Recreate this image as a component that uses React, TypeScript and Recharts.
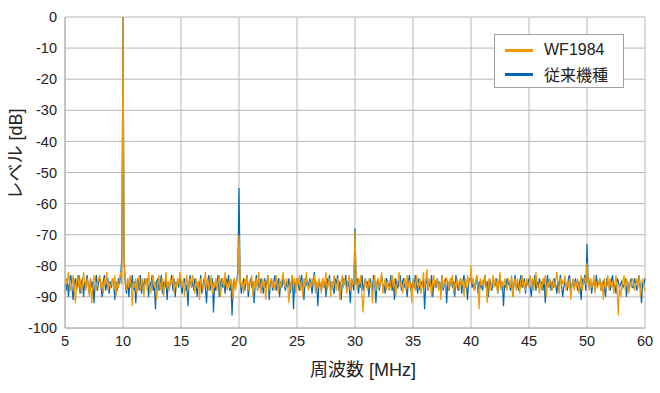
import { LineChart, Line, XAxis, YAxis, CartesianGrid, Legend, Label } from "recharts";

// spectrum sampled every 0.1 MHz, 5.0 .. 55.0 MHz of plotted span
const START_MHZ = 5;
const STEP_MHZ = 0.1;

// the source axis has eleven evenly spaced gridlines, the last one is labelled "60"
const xTicks = [5, 10, 15, 20, 25, 30, 35, 40, 45, 50, 55];
const xTickLabels = ["5", "10", "15", "20", "25", "30", "35", "40", "45", "50", "60"];
const yTicks = [0, -10, -20, -30, -40, -50, -60, -70, -80, -90, -100];

// WF1984 level [dB], one row per MHz
const wf1984 = [
  -89, -84, -86, -82, -85, -88, -86, -83, -87, -92,
  -85, -83, -87, -84, -89, -86, -82, -85, -88, -84,
  -86, -90, -84, -92, -87, -83, -85, -88, -86, -84,
  -83, -87, -85, -89, -84, -86, -82, -88, -85, -87,
  -86, -84, -88, -83, -90, -85, -87, -84, -82, -86,
  0, -80, -85, -88, -84, -87, -83, -86, -93, -85,
  -87, -84, -89, -85, -83, -88, -86, -84, -90, -85,
  -84, -88, -82, -86, -89, -85, -83, -87, -85, -91,
  -86, -83, -88, -85, -84, -90, -86, -82, -87, -85,
  -88, -84, -86, -83, -89, -85, -87, -84, -86, -82,
  -85, -87, -84, -90, -86, -83, -88, -85, -84, -87,
  -83, -86, -89, -84, -87, -85, -91, -84, -86, -88,
  -85, -82, -87, -84, -88, -86, -83, -89, -85, -87,
  -84, -88, -85, -83, -90, -86, -84, -87, -82, -86,
  -88, -85, -87, -84, -86, -91, -84, -88, -85, -83,
  -70, -84, -87, -85, -89, -84, -86, -83, -88, -85,
  -86, -83, -90, -85, -87, -84, -88, -82, -86, -89,
  -84, -87, -85, -91, -86, -83, -88, -85, -84, -87,
  -85, -88, -83, -86, -89, -84, -87, -85, -82, -86,
  -87, -84, -86, -92, -85, -88, -83, -86, -84, -89,
  -84, -86, -83, -88, -85, -90, -84, -87, -82, -86,
  -88, -85, -87, -84, -86, -83, -89, -85, -87, -84,
  -86, -89, -84, -87, -85, -82, -88, -86, -84, -90,
  -85, -87, -83, -86, -88, -84, -86, -91, -85, -83,
  -87, -84, -86, -89, -85, -83, -88, -84, -86, -85,
  -69, -85, -88, -84, -86, -83, -90, -95, -87, -84,
  -86, -88, -84, -87, -85, -92, -86, -83, -88, -85,
  -84, -87, -85, -82, -89, -86, -84, -88, -85, -87,
  -88, -85, -83, -87, -84, -90, -86, -85, -82, -87,
  -85, -89, -86, -84, -88, -83, -87, -85, -86, -92,
  -84, -86, -88, -83, -85, -87, -84, -89, -86, -82,
  -87, -85, -81, -88, -84, -86, -90, -85, -83, -87,
  -86, -84, -88, -85, -91, -83, -87, -85, -86, -84,
  -85, -88, -84, -86, -83, -89, -85, -87, -84, -86,
  -88, -84, -86, -85, -90, -84, -87, -83, -86, -85,
  -80, -86, -84, -88, -85, -83, -87, -94, -84, -86,
  -85, -87, -83, -86, -92, -85, -84, -88, -86, -83,
  -87, -84, -86, -89, -85, -82, -88, -85, -87, -84,
  -86, -88, -84, -85, -87, -83, -90, -86, -84, -88,
  -84, -86, -89, -85, -83, -87, -85, -88, -84, -86,
  -87, -83, -86, -84, -88, -85, -82, -87, -86, -89,
  -85, -88, -84, -86, -83, -90, -85, -87, -84, -86,
  -88, -84, -87, -85, -82, -86, -89, -84, -86, -85,
  -86, -83, -88, -85, -87, -84, -91, -86, -84, -88,
  -85, -87, -84, -89, -86, -83, -88, -85, -84, -86,
  -79, -85, -88, -84, -87, -86, -83, -89, -85, -87,
  -86, -84, -88, -85, -91, -84, -87, -86, -83, -88,
  -84, -87, -85, -89, -86, -83, -88, -96, -86, -90,
  -87, -85, -83, -88, -84, -86, -89, -85, -87, -84,
  -85, -88, -86, -84, -87, -83, -90, -86, -84, -87,
  -88,
];

// 従来機種 level [dB], one row per MHz
const legacy = [
  -86, -88, -84, -90, -85, -83, -87, -91, -86, -84,
  -88, -85, -83, -89, -86, -84, -90, -85, -87, -83,
  -86, -89, -84, -87, -85, -92, -86, -83, -88, -85,
  -84, -87, -90, -85, -83, -88, -86, -84, -89, -85,
  -87, -84, -86, -91, -85, -88, -84, -86, -83, -77,
  0, -78, -86, -89, -84, -90, -85, -87, -83, -88,
  -85, -92, -86, -84, -88, -83, -89, -85, -87, -84,
  -86, -84, -90, -85, -87, -83, -88, -86, -94, -85,
  -84, -88, -86, -83, -89, -85, -87, -84, -91, -86,
  -87, -85, -83, -88, -84, -90, -86, -85, -87, -83,
  -86, -89, -85, -84, -88, -86, -93, -85, -83, -87,
  -85, -88, -84, -86, -90, -85, -87, -83, -89, -86,
  -84, -87, -92, -85, -83, -88, -86, -84, -95, -86,
  -88, -85, -83, -90, -86, -84, -87, -85, -89, -84,
  -86, -83, -88, -85, -96, -86, -84, -87, -85, -82,
  -55, -85, -89, -86, -84, -88, -85, -83, -90, -86,
  -84, -87, -85, -92, -86, -83, -88, -85, -87, -84,
  -86, -89, -84, -87, -85, -83, -91, -86, -84, -88,
  -85, -83, -88, -86, -84, -90, -85, -87, -83, -86,
  -88, -85, -87, -84, -89, -86, -83, -94, -85, -87,
  -84, -86, -88, -85, -83, -87, -91, -84, -86, -85,
  -87, -84, -86, -89, -85, -82, -88, -86, -93, -85,
  -86, -88, -84, -87, -85, -90, -84, -86, -83, -88,
  -85, -87, -89, -84, -86, -83, -88, -85, -91, -86,
  -84, -86, -83, -88, -85, -87, -92, -84, -86, -88,
  -68, -86, -84, -89, -85, -87, -83, -88, -86, -84,
  -87, -85, -90, -84, -86, -88, -83, -85, -92, -86,
  -84, -88, -85, -83, -87, -86, -89, -84, -85, -87,
  -86, -83, -88, -85, -91, -84, -86, -87, -85, -83,
  -88, -85, -84, -87, -86, -90, -85, -83, -88, -86,
  -85, -87, -83, -86, -89, -84, -88, -85, -86, -84,
  -94, -86, -84, -88, -85, -87, -83, -90, -86, -85,
  -87, -84, -86, -85, -89, -83, -88, -86, -84, -92,
  -85, -88, -86, -84, -87, -85, -90, -83, -86, -88,
  -86, -84, -89, -85, -83, -87, -86, -91, -85, -84,
  -84, -87, -85, -88, -86, -83, -89, -85, -87, -86,
  -88, -85, -83, -87, -85, -90, -84, -86, -88, -85,
  -85, -86, -84, -89, -86, -83, -87, -85, -93, -86,
  -87, -84, -86, -85, -88, -84, -90, -86, -83, -87,
  -86, -88, -85, -83, -87, -86, -84, -89, -85, -86,
  -84, -87, -90, -85, -86, -83, -88, -85, -87, -84,
  -86, -85, -88, -84, -92, -86, -83, -87, -85, -88,
  -85, -87, -84, -86, -89, -85, -87, -83, -86, -90,
  -87, -85, -86, -88, -84, -83, -89, -86, -85, -87,
  -84, -86, -88, -85, -87, -91, -84, -86, -83, -88,
  -73, -85, -87, -84, -89, -86, -85, -88, -83, -86,
  -86, -84, -88, -86, -85, -87, -90, -84, -86, -85,
  -88, -85, -83, -87, -86, -89, -84, -85, -87, -86,
  -85, -87, -86, -84, -90, -85, -88, -86, -84, -87,
  -87, -84, -86, -88, -85, -83, -87, -92, -85, -86,
  -84,
];

const series = [
  { key: "wf1984", name: "WF1984", color: "#f39800" },
  { key: "legacy", name: "従来機種", color: "#0068b7" },
];

const data = wf1984.map((v, i) => ({
  f: Math.round((START_MHZ + i * STEP_MHZ) * 10) / 10,
  wf1984: v,
  legacy: legacy[i],
}));

const FONT = "Arial, 'Liberation Sans', 'Noto Sans CJK JP', sans-serif";

function LegendBox() {
  return (
    <div
      style={{
        width: 128,
        height: 52,
        border: "1px solid #a0a0a0",
        background: "#fff",
        fontFamily: FONT,
        fontSize: 16,
        color: "#222",
        boxSizing: "content-box",
      }}
    >
      {series.map((s, i) => (
        <div
          key={s.key}
          style={{ display: "flex", alignItems: "center", height: 24, marginTop: i === 0 ? 3 : 0 }}
        >
          <span
            style={{ display: "inline-block", width: 28, height: 3, background: s.color, marginLeft: 10, marginRight: 11 }}
          />
          <span>{s.name}</span>
        </div>
      ))}
    </div>
  );
}

export default function App() {
  return (
    <div style={{ position: "absolute", left: 0, top: 0, width: 660, height: 393, background: "#fff" }}>
      <LineChart width={660} height={393} data={data} margin={{ top: 17, right: 15, bottom: 0, left: 0 }}>
        <CartesianGrid stroke="#b8b8b8" strokeWidth={1} />
        <XAxis
          dataKey="f"
          type="number"
          domain={[5, 55]}
          ticks={xTicks}
          tickFormatter={(v: number) => xTickLabels[xTicks.indexOf(v)] ?? String(v)}
          height={65}
          tickLine={false}
          axisLine={{ stroke: "#b0b0b0" }}
          tick={{ fill: "#222", fontSize: 14.5, fontFamily: FONT }}
          interval={0}
        >
          <Label
            content={() => (
              <text x={363} y={376} textAnchor="middle" fill="#222" fontSize={18} fontFamily={FONT}>
                周波数 [MHz]
              </text>
            )}
          />
        </XAxis>
        <YAxis
          type="number"
          domain={[-100, 0]}
          ticks={yTicks}
          width={65}
          tickLine={false}
          axisLine={{ stroke: "#b0b0b0" }}
          tick={{ fill: "#222", fontSize: 14.5, fontFamily: FONT }}
          interval={0}
        >
          <Label
            content={() => (
              <text
                x={22}
                y={154}
                transform="rotate(-90 22 154)"
                textAnchor="middle"
                fill="#222"
                fontSize={18}
                fontFamily={FONT}
              >
                レベル [dB]
              </text>
            )}
          />
        </YAxis>
        <Line
          type="linear"
          dataKey="legacy"
          name="従来機種"
          stroke="#0068b7"
          strokeWidth={1.2}
          dot={false}
          isAnimationActive={false}
        />
        <Line
          type="linear"
          dataKey="wf1984"
          name="WF1984"
          stroke="#f39800"
          strokeWidth={1.2}
          dot={false}
          isAnimationActive={false}
        />
        <Legend
          layout="vertical"
          align="center"
          verticalAlign="middle"
          content={() => <LegendBox />}
          wrapperStyle={{ left: 494, top: 34, width: 130, height: 54 }}
        />
      </LineChart>
    </div>
  );
}
